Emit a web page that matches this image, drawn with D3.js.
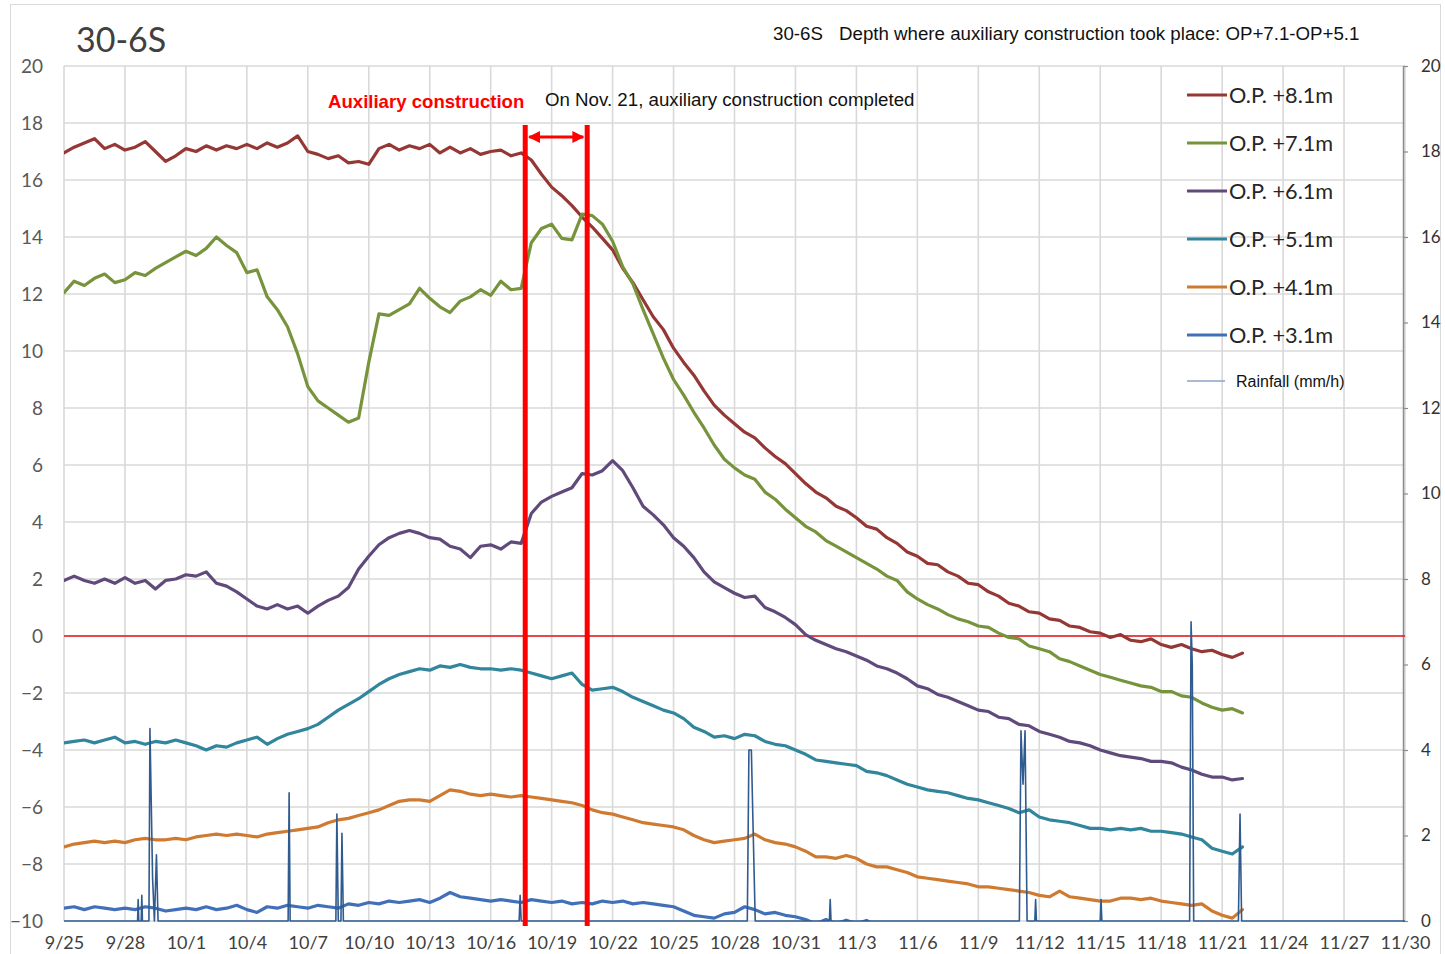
<!DOCTYPE html>
<html>
<head>
<meta charset="utf-8">
<script src="https://cdn.jsdelivr.net/npm/d3@7"></script>
<style>
  body { margin: 0; background: #fff; }
  svg { display: block; }
</style>
</head>
<body>
<svg id="chart" width="1445" height="954"></svg>
<script>
// Groundwater level readings, one value every 12 hours starting 9/25 00:00
const SAMPLE_STEP_DAYS = 0.5;

const op81 = [16.95,17.15,17.3,17.45,17.1,17.25,17.05,17.15,17.35,17.0,16.65,16.85,17.1,17.0,17.2,17.05,17.2,17.1,17.25,17.1,
  17.3,17.15,17.3,17.55,17.0,16.9,16.75,16.85,16.6,16.65,16.55,17.1,17.25,17.05,17.2,17.1,17.25,16.95,17.15,16.95,
  17.1,16.9,17.0,17.05,16.85,16.95,16.7,16.2,15.75,15.45,15.1,14.7,14.35,13.95,13.55,12.9,12.4,11.8,11.2,10.75,
  10.1,9.6,9.15,8.6,8.1,7.75,7.45,7.15,6.95,6.6,6.3,6.05,5.7,5.35,5.05,4.85,4.55,4.4,4.15,3.85,
  3.75,3.45,3.25,2.95,2.8,2.55,2.5,2.25,2.1,1.85,1.8,1.55,1.4,1.15,1.05,0.85,0.8,0.6,0.55,0.35,
  0.3,0.15,0.1,-0.05,0.05,-0.15,-0.2,-0.1,-0.3,-0.4,-0.3,-0.45,-0.55,-0.5,-0.65,-0.75,-0.6];

const op71 = [12.05,12.45,12.3,12.55,12.7,12.4,12.5,12.75,12.65,12.9,13.1,13.3,13.5,13.35,13.6,14.0,13.7,13.45,12.75,12.85,
  11.9,11.45,10.85,9.9,8.75,8.25,8.0,7.75,7.5,7.65,9.6,11.3,11.25,11.45,11.65,12.2,11.85,11.55,11.35,11.75,
  11.9,12.15,11.95,12.45,12.15,12.2,13.8,14.3,14.45,13.95,13.9,14.8,14.75,14.45,13.85,12.95,12.35,11.45,10.6,9.75,
  9.0,8.45,7.85,7.3,6.7,6.2,5.9,5.65,5.5,5.05,4.8,4.45,4.15,3.85,3.65,3.35,3.15,2.95,2.75,2.55,
  2.35,2.1,1.95,1.55,1.3,1.1,0.95,0.75,0.6,0.5,0.35,0.3,0.1,-0.05,-0.1,-0.35,-0.45,-0.55,-0.8,-0.9,
  -1.05,-1.2,-1.35,-1.45,-1.55,-1.65,-1.75,-1.8,-1.95,-1.95,-2.1,-2.15,-2.35,-2.5,-2.6,-2.55,-2.7];

const op61 = [1.95,2.1,1.95,1.85,2.0,1.85,2.05,1.85,1.95,1.65,1.95,2.0,2.15,2.1,2.25,1.85,1.75,1.55,1.3,1.05,
  0.95,1.1,0.95,1.05,0.8,1.05,1.25,1.4,1.7,2.35,2.8,3.2,3.45,3.6,3.7,3.6,3.45,3.4,3.15,3.05,
  2.75,3.15,3.2,3.05,3.3,3.25,4.3,4.7,4.9,5.05,5.2,5.7,5.65,5.8,6.15,5.8,5.2,4.55,4.25,3.9,
  3.45,3.15,2.75,2.25,1.9,1.7,1.5,1.35,1.4,1.0,0.85,0.65,0.4,0.05,-0.15,-0.3,-0.45,-0.55,-0.7,-0.85,
  -1.05,-1.15,-1.3,-1.5,-1.75,-1.85,-2.05,-2.15,-2.3,-2.45,-2.6,-2.65,-2.85,-2.9,-3.1,-3.15,-3.35,-3.45,-3.55,-3.7,
  -3.75,-3.85,-4.0,-4.1,-4.2,-4.25,-4.3,-4.4,-4.4,-4.45,-4.6,-4.7,-4.85,-4.95,-4.95,-5.05,-5.0];

const op51 = [-3.75,-3.7,-3.65,-3.75,-3.65,-3.55,-3.75,-3.7,-3.8,-3.7,-3.75,-3.65,-3.75,-3.85,-4.0,-3.85,-3.9,-3.75,-3.65,-3.55,
  -3.8,-3.6,-3.45,-3.35,-3.25,-3.1,-2.85,-2.6,-2.4,-2.2,-1.95,-1.7,-1.5,-1.35,-1.25,-1.15,-1.2,-1.05,-1.1,-1.0,
  -1.1,-1.15,-1.15,-1.2,-1.15,-1.2,-1.3,-1.4,-1.5,-1.4,-1.3,-1.7,-1.9,-1.85,-1.8,-1.95,-2.15,-2.3,-2.45,-2.6,
  -2.7,-2.9,-3.2,-3.35,-3.55,-3.5,-3.6,-3.45,-3.5,-3.7,-3.8,-3.85,-4.0,-4.15,-4.35,-4.4,-4.45,-4.5,-4.55,-4.75,
  -4.8,-4.9,-5.05,-5.2,-5.3,-5.4,-5.45,-5.5,-5.6,-5.7,-5.75,-5.85,-5.95,-6.05,-6.2,-6.1,-6.35,-6.45,-6.5,-6.55,
  -6.65,-6.75,-6.75,-6.8,-6.75,-6.8,-6.75,-6.85,-6.85,-6.9,-6.95,-7.05,-7.15,-7.45,-7.55,-7.65,-7.4];

const op41 = [-7.4,-7.3,-7.25,-7.2,-7.25,-7.2,-7.25,-7.15,-7.1,-7.15,-7.15,-7.1,-7.15,-7.05,-7.0,-6.95,-7.0,-6.95,-7.0,-7.05,
  -6.95,-6.9,-6.85,-6.8,-6.75,-6.7,-6.55,-6.45,-6.4,-6.3,-6.2,-6.1,-5.95,-5.8,-5.75,-5.75,-5.8,-5.6,-5.4,-5.45,
  -5.55,-5.6,-5.55,-5.6,-5.65,-5.6,-5.65,-5.7,-5.75,-5.8,-5.85,-5.95,-6.1,-6.2,-6.25,-6.35,-6.45,-6.55,-6.6,-6.65,
  -6.7,-6.8,-7.0,-7.15,-7.25,-7.2,-7.15,-7.1,-6.95,-7.15,-7.25,-7.3,-7.4,-7.55,-7.75,-7.75,-7.8,-7.7,-7.8,-8.0,
  -8.1,-8.1,-8.2,-8.3,-8.45,-8.5,-8.55,-8.6,-8.65,-8.7,-8.8,-8.8,-8.85,-8.9,-8.95,-9.0,-9.1,-9.15,-8.95,-9.15,
  -9.2,-9.25,-9.3,-9.3,-9.2,-9.2,-9.25,-9.2,-9.3,-9.35,-9.4,-9.45,-9.4,-9.65,-9.8,-9.9,-9.6];

const op31 = [-9.55,-9.5,-9.6,-9.5,-9.55,-9.6,-9.55,-9.6,-9.5,-9.55,-9.65,-9.6,-9.55,-9.6,-9.5,-9.6,-9.55,-9.45,-9.6,-9.7,
  -9.5,-9.55,-9.45,-9.5,-9.55,-9.45,-9.5,-9.55,-9.4,-9.45,-9.35,-9.4,-9.3,-9.35,-9.3,-9.25,-9.35,-9.2,-9.0,-9.15,
  -9.2,-9.25,-9.3,-9.25,-9.3,-9.35,-9.25,-9.3,-9.35,-9.3,-9.4,-9.35,-9.4,-9.3,-9.35,-9.3,-9.4,-9.35,-9.4,-9.45,
  -9.5,-9.65,-9.8,-9.85,-9.9,-9.75,-9.7,-9.5,-9.6,-9.75,-9.7,-9.8,-9.85,-9.95,-10.1,-9.95,-10.1,-9.97,-10.1,-9.98,
  -10.2];

// Hourly rainfall (mm/h): day offset from 9/25 and amount
const rainDays = [0, 3.62,3.65,3.68, 3.8,3.83,3.86, 4.18,4.23,4.36,4.45,4.55,4.63, 11.03,11.08,11.13,
  13.38,13.43,13.5,13.63,13.68,13.75, 22.4,22.45,22.5, 33.63,33.71,33.83,33.9,34.02, 37.67,37.71,37.75,
  47.02,47.1,47.2,47.3,47.4, 47.78,47.82,47.86, 51.0,51.04,51.08, 55.4,55.47,55.53,55.6, 57.8,57.88,57.96, 66];
const rainMm = [0, 0,0.5,0, 0,0.6,0, 0,4.5,1.0,0,1.55,0, 0,3.0,0,
  0,2.5,0,0,2.05,0, 0,0.6,0, 0,4.0,4.0,2.5,0, 0,0.5,0,
  0,4.45,3.2,4.45,0, 0,0.5,0, 0,0.5,0, 0,7.0,6.0,0, 0,2.5,0, 0];

// Start and completion of the auxiliary construction (day offsets)
const constructionDays = [22.7, 25.75];

const xTickLabels = ["9/25","9/28","10/1","10/4","10/7","10/10","10/13","10/16","10/19","10/22","10/25","10/28",
  "10/31","11/3","11/6","11/9","11/12","11/15","11/18","11/21","11/24","11/27","11/30"];
const leftTicks = [-10,-8,-6,-4,-2,0,2,4,6,8,10,12,14,16,18,20];
const rightTicks = [0,2,4,6,8,10,12,14,16,18,20];

const seriesNames = ["O.P. +8.1m","O.P. +7.1m","O.P. +6.1m","O.P. +5.1m","O.P. +4.1m","O.P. +3.1m"];
const seriesValues = [op81, op71, op61, op51, op41, op31];
const seriesColors = ["#953735","#77933c","#604a7b","#31859c","#cf7a31","#4170b8"];
const rainColor = "#2f5b8f";

const YEAR = 2015;
const START = Date.UTC(YEAR, 8, 25);
const DAY = 864e5;
const dayToDate = d => new Date(START + d * DAY);
const parseTick = s => { const [m, d] = s.split("/").map(Number); return new Date(Date.UTC(YEAR, m - 1, d)); };

const svg = d3.select("#chart");
const W = 1445, H = 954;
const plot = { left: 64, right: 1405, top: 66, bottom: 921 };
const ARIAL = "'Liberation Sans', Arial, sans-serif";
const CAL = "Lato, 'Noto Sans', sans-serif";

svg.append("rect").attr("width", W).attr("height", H).attr("fill", "#fff");
svg.append("rect").attr("x", 10.5).attr("y", 4.5).attr("width", 1430).attr("height", 970)
  .attr("fill", "none").attr("stroke", "#d9d9d9").attr("stroke-width", 1);

const x = d3.scaleUtc().domain([parseTick("9/25"), parseTick("11/30")]).range([plot.left, plot.right]);
const yL = d3.scaleLinear().domain([-10, 20]).range([plot.bottom, plot.top]);
const yR = d3.scaleLinear().domain([0, 20]).range([plot.bottom, plot.top]);

const tickDates = xTickLabels.map(parseTick);

// Gridlines
const grid = svg.append("g").attr("stroke", "#d9d9d9").attr("stroke-width", 1.6);
grid.selectAll("line.v").data(tickDates).join("line")
  .attr("x1", d => x(d)).attr("x2", d => x(d)).attr("y1", plot.top).attr("y2", plot.bottom);
grid.selectAll("line.h").data(leftTicks).join("line")
  .attr("x1", plot.left).attr("x2", plot.right).attr("y1", d => yL(d)).attr("y2", d => yL(d));

// Left axis
const axL = svg.append("g").attr("transform", `translate(${plot.left},0)`)
  .call(d3.axisLeft(yL).tickValues(leftTicks).tickSize(0).tickPadding(21).tickFormat(d3.format("d")));
axL.select(".domain").remove();
axL.selectAll("text").attr("font-family", CAL).attr("font-size", 19).attr("fill", "#595959");

// Bottom axis
const axB = svg.append("g").attr("transform", `translate(0,${plot.bottom})`)
  .call(d3.axisBottom(x).tickValues(tickDates).tickSize(0).tickPadding(15).tickFormat((d, i) => xTickLabels[i]));
axB.select(".domain").remove();
axB.selectAll("text").attr("font-family", CAL).attr("font-size", 18).attr("fill", "#404040");

// Right axis (rainfall)
const axR = svg.append("g").attr("transform", `translate(1403,0)`)
  .call(d3.axisRight(yR).tickValues(rightTicks).tickSize(5).tickSizeOuter(0).tickPadding(13).tickFormat(d3.format("d")));
axR.select(".domain").attr("stroke", "#8c8c8c").attr("stroke-width", 1.5);
axR.selectAll(".tick line").attr("stroke", "#8c8c8c").attr("stroke-width", 1.2);
axR.selectAll("text").attr("font-family", CAL).attr("font-size", 17).attr("fill", "#333");

// Clip region for the data lines
svg.append("clipPath").attr("id", "plotClip").append("rect")
  .attr("x", plot.left).attr("y", plot.top - 2).attr("width", plot.right - plot.left).attr("height", plot.bottom - plot.top + 2);

// Zero level reference line
svg.append("line").attr("x1", plot.left).attr("x2", plot.right).attr("y1", yL(0)).attr("y2", yL(0))
  .attr("stroke", "#e8141a").attr("stroke-width", 1.6);

// Water level series
const dataG = svg.append("g").attr("clip-path", "url(#plotClip)");
const line = d3.line().x(d => x(d[0])).y(d => yL(d[1]));
seriesValues.forEach((vals, k) => {
  const pts = vals.map((v, i) => [dayToDate(i * SAMPLE_STEP_DAYS), v]);
  dataG.append("path").datum(pts).attr("d", line)
    .attr("fill", "none").attr("stroke", seriesColors[k]).attr("stroke-width", 3.2)
    .attr("stroke-linejoin", "round").attr("stroke-linecap", "round");
});

// Rainfall on the secondary axis
const rainLine = d3.line().x(d => x(d[0])).y(d => yR(d[1]));
const rainPts = rainDays.map((d, i) => [dayToDate(d), rainMm[i]]);
svg.append("path").datum(rainPts).attr("d", rainLine)
  .attr("fill", "none").attr("stroke", rainColor).attr("stroke-width", 1.6).attr("stroke-linejoin", "round");

// Construction period markers
svg.selectAll("line.construction").data(constructionDays).join("line")
  .attr("x1", d => x(dayToDate(d))).attr("x2", d => x(dayToDate(d)))
  .attr("y1", 125).attr("y2", 926)
  .attr("stroke", "#ff0000").attr("stroke-width", 5);

const defs = svg.append("defs");
defs.append("marker").attr("id", "arrowEnd").attr("viewBox", "0 0 10 10").attr("refX", 9).attr("refY", 5)
  .attr("markerWidth", 4).attr("markerHeight", 4).attr("markerUnits", "strokeWidth").attr("orient", "auto-start-reverse")
  .append("path").attr("d", "M0,0 L10,5 L0,10 Z").attr("fill", "#ff0000");
svg.append("line")
  .attr("x1", x(dayToDate(constructionDays[0])) + 4).attr("x2", x(dayToDate(constructionDays[1])) - 4)
  .attr("y1", 137).attr("y2", 137)
  .attr("stroke", "#ff0000").attr("stroke-width", 3)
  .attr("marker-start", "url(#arrowEnd)").attr("marker-end", "url(#arrowEnd)");

// Titles and annotations
svg.append("text").attr("x", 76).attr("y", 52).text("30-6S")
  .attr("font-family", CAL).attr("font-size", 34).attr("fill", "#404040");
svg.append("text").attr("x", 773).attr("y", 40).text("30-6S")
  .attr("font-family", ARIAL).attr("font-size", 18.7).attr("fill", "#111");
svg.append("text").attr("x", 839).attr("y", 40).text("Depth where auxiliary construction took place: OP+7.1-OP+5.1")
  .attr("font-family", ARIAL).attr("font-size", 18.7).attr("fill", "#111");
svg.append("text").attr("x", 328).attr("y", 108).text("Auxiliary construction")
  .attr("font-family", ARIAL).attr("font-size", 18.6).attr("font-weight", "bold").attr("fill", "#ff0000");
svg.append("text").attr("x", 545).attr("y", 106).text("On Nov. 21, auxiliary construction completed")
  .attr("font-family", ARIAL).attr("font-size", 18.7).attr("fill", "#111");

// Legend
const legend = svg.append("g");
seriesNames.forEach((name, k) => {
  const cy = 95 + k * 48;
  legend.append("line").attr("x1", 1187).attr("x2", 1227).attr("y1", cy).attr("y2", cy)
    .attr("stroke", seriesColors[k]).attr("stroke-width", 3);
  legend.append("text").attr("x", 1229).attr("y", cy + 7.5).text(name)
    .attr("font-family", CAL).attr("font-size", 21.7).attr("fill", "#262626");
});
legend.append("line").attr("x1", 1187).attr("x2", 1225).attr("y1", 381).attr("y2", 381)
  .attr("stroke", "#8ea3c8").attr("stroke-width", 1.3);
legend.append("text").attr("x", 1236).attr("y", 387).text("Rainfall (mm/h)")
  .attr("font-family", ARIAL).attr("font-size", 16).attr("fill", "#111");
</script>
</body>
</html>
